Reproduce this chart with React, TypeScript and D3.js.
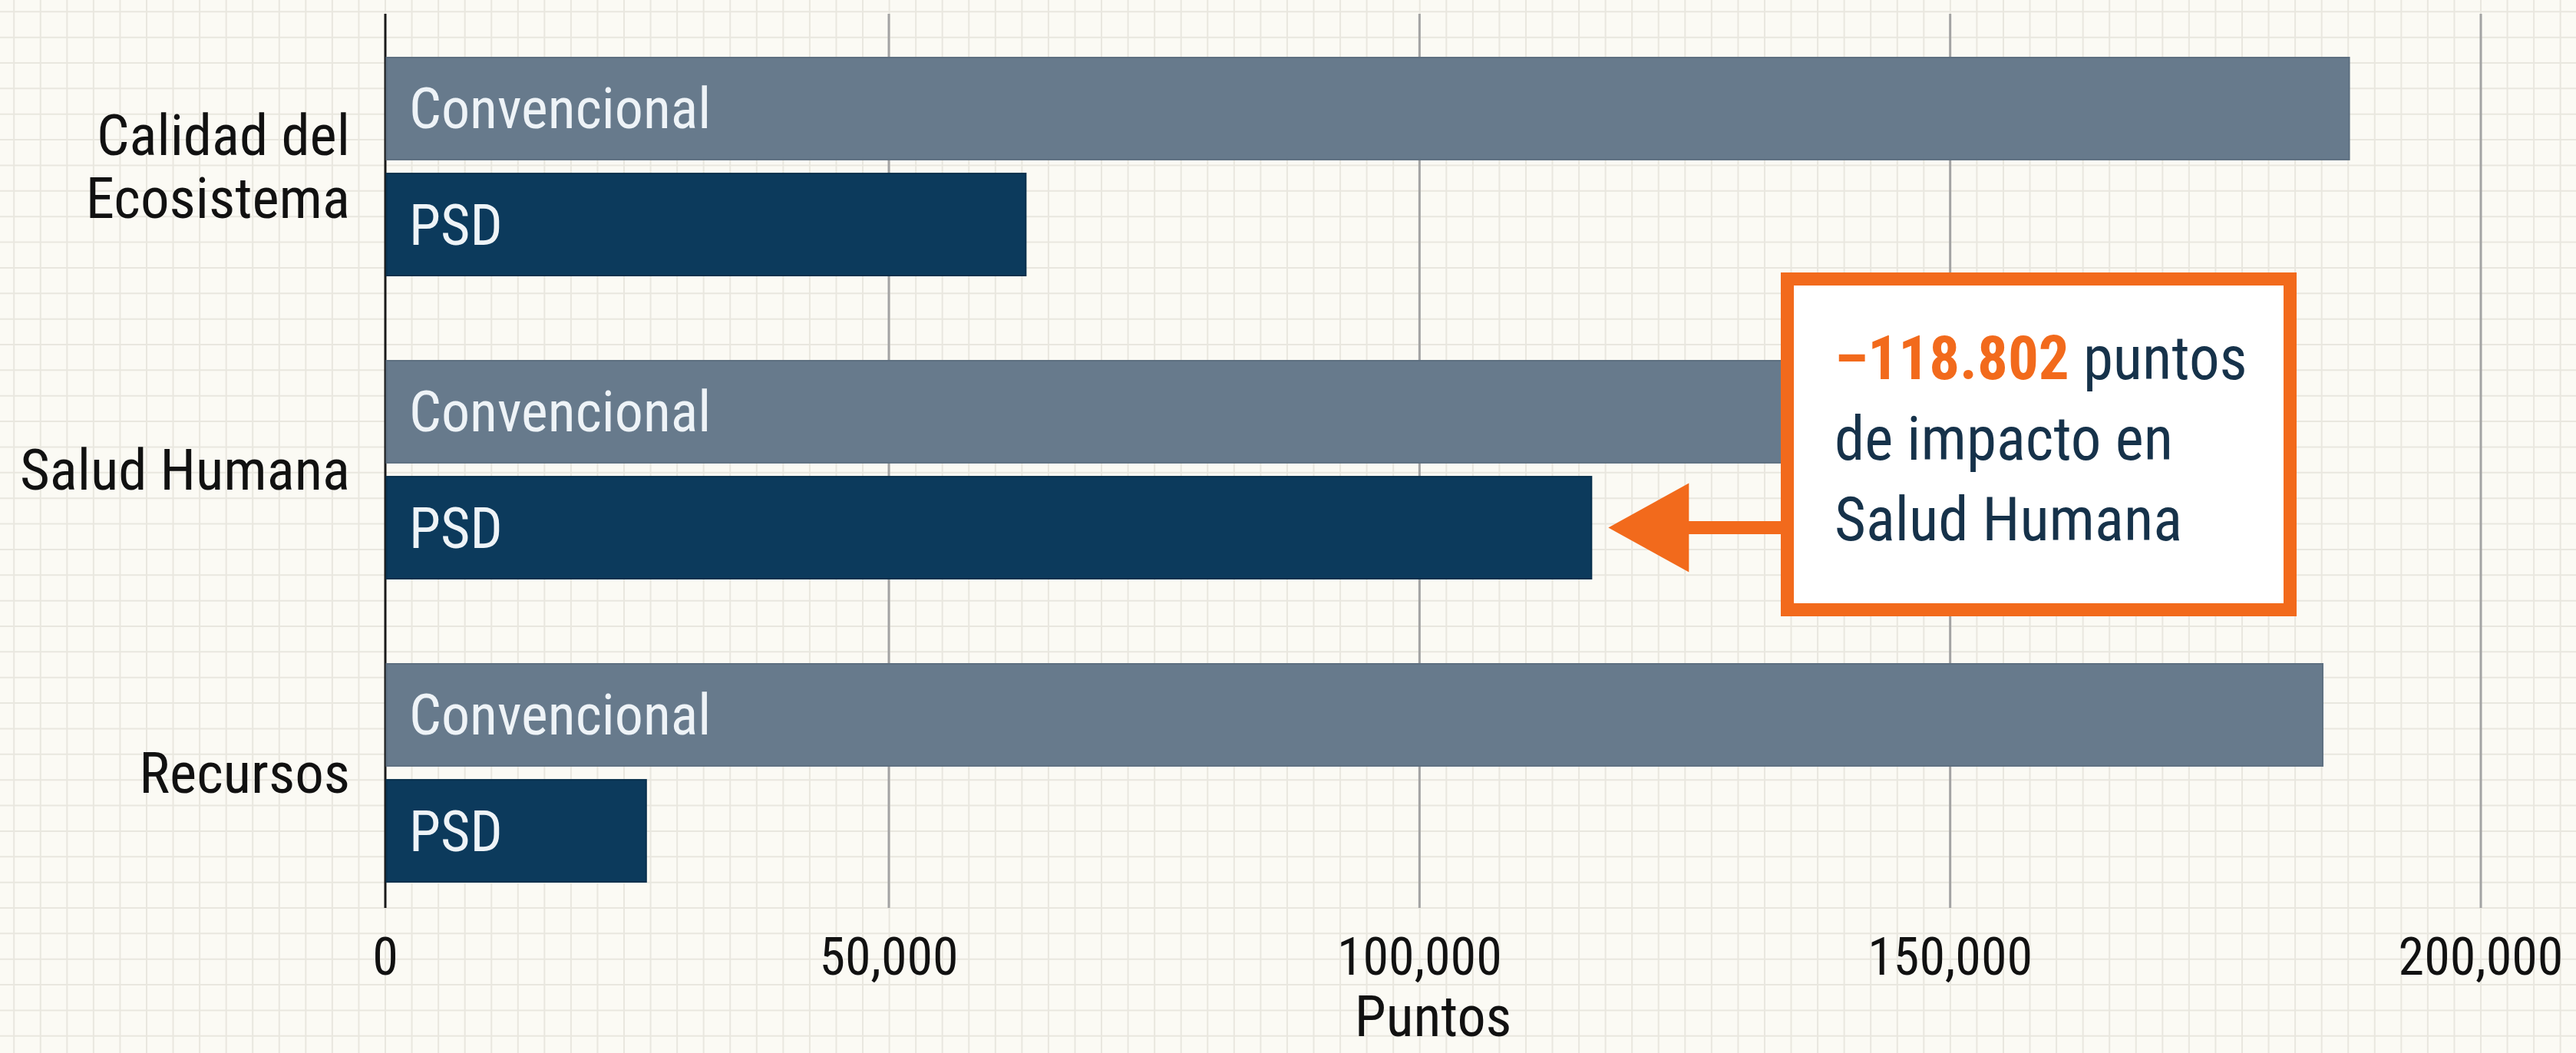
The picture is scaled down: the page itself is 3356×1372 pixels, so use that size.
import React from 'react';
import * as d3 from 'd3';

const categories = ['Calidad del Ecosistema', 'Salud Humana', 'Recursos'];
const categoryLines = [['Calidad del', 'Ecosistema'], ['Salud Humana'], ['Recursos']];
const series = ['Convencional', 'PSD'];
const convencional = [187600, 178000, 185100];
const psd = [62900, 116200, 25900];
const tickValues = [0, 50000, 100000, 150000, 200000];
const tickLabels = ['0', '50,000', '100,000', '150,000', '200,000'];
const axisTitle = 'Puntos';
const annotationValue = '–118.802';
const annotationLines = [' puntos', 'de impacto en', 'Salud Humana'];

const W = 3356;
const H = 1372;
const FONT = '"Liberation Sans Narrow", "Roboto Condensed", "Arial Narrow", "Liberation Sans", sans-serif';
const COLORS: Record<string, string> = { Convencional: '#677a8c', PSD: '#0c3a5c' };
const STROKES: Record<string, string> = { Convencional: '#5d6f80', PSD: '#08304d' };
const ORANGE = '#f26a1c';

export default function App() {
  const x = d3.scaleLinear().domain([0, 50000, 200000]).range([502, 1158, 3232]);
  const y = d3.scaleBand<string>().domain(categories).range([19.5, 1204.5]).paddingInner(0.281).paddingOuter(0.1405);
  const yInner = d3.scaleBand<string>().domain(series).range([0, y.bandwidth()]).paddingInner(0.12);

  const gridTop = 18;
  const gridBottom = 1183;

  // background paper grid
  const cell = (x(200000) - x(0)) / 79;
  const vLines: number[] = [];
  for (let k = -20; k < 100; k++) {
    const v = x(0) + k * cell;
    if (v >= 0 && v <= W) vLines.push(v);
  }
  const hLines: number[] = [];
  const hStep = (1183 - 82) / 33;
  for (let k = -3; k < 45; k++) {
    const v = 82 + k * hStep;
    if (v >= 0 && v <= H) hLines.push(v);
  }

  const rows = categories.map((c, i) => ({ cat: c, lines: categoryLines[i], values: [convencional[i], psd[i]] }));

  const salud = categories[1];
  const arrowY = (y(salud) as number) + (yInner('PSD') as number) + yInner.bandwidth() / 2;
  const tipX = x(psd[1]) + 22;
  const headBase = tipX + 105;
  const boxX = 2320, boxY = 355, boxW = 672, boxH = 448, bw = 17;

  return (
    <svg width={W} height={H} style={{ position: 'absolute', left: 0, top: 0, display: 'block' }} fontFamily={FONT}>
      <rect x={0} y={0} width={W} height={H} fill="#fbfaf4" />
      <g stroke="#e9e7df" strokeWidth={2}>
        {vLines.map((v, i) => <line key={'v' + i} x1={v} x2={v} y1={0} y2={H} />)}
        {hLines.map((v, i) => <line key={'h' + i} x1={0} x2={W} y1={v} y2={v} />)}
      </g>

      {/* major gridlines */}
      {tickValues.map((t, i) => (
        <line key={'g' + i} x1={x(t)} x2={x(t)} y1={gridTop} y2={gridBottom}
          stroke={t === 0 ? '#1a1a1a' : '#a3a3a3'} strokeWidth={3} />
      ))}

      {/* bars */}
      {rows.map((r) => (
        <g key={r.cat} transform={`translate(0,${y(r.cat)})`}>
          {series.map((s, j) => {
            const by = yInner(s) as number;
            return (
              <g key={s}>
                <rect x={x(0) + 1.5} y={by} width={x(r.values[j]) - x(0) - 1.5} height={yInner.bandwidth()}
                  fill={COLORS[s]} stroke={STROKES[s]} strokeWidth={2} />
                <text x={x(0) + 31} y={by + yInner.bandwidth() / 2 + 26} fontSize={74} fill="#eef3f7">{s}</text>
              </g>
            );
          })}
        </g>
      ))}

      {/* y labels */}
      {rows.map((r) => {
        const cy = (y(r.cat) as number) + y.bandwidth() / 2;
        const n = r.lines.length;
        const lh = 82;
        return (
          <text key={'yl' + r.cat} textAnchor="end" fontSize={75} fill="#111">
            {r.lines.map((l, k) => (
              <tspan key={k} x={456} y={cy + 26 + (k - (n - 1) / 2) * lh}>{l}</tspan>
            ))}
          </text>
        );
      })}

      {/* x tick labels */}
      {tickValues.map((t, i) => (
        <text key={'t' + i} x={x(t)} y={1270} textAnchor="middle" fontSize={68} fill="#111">{tickLabels[i]}</text>
      ))}
      <text x={(x(0) + x(200000)) / 2} y={1350} textAnchor="middle" fontSize={74} fill="#111">{axisTitle}</text>

      {/* annotation */}
      <line x1={headBase - 2} x2={boxX + bw / 2} y1={arrowY} y2={arrowY} stroke={ORANGE} strokeWidth={17} />
      <path d={`M${tipX},${arrowY} L${headBase},${arrowY - 58} L${headBase},${arrowY + 58} Z`} fill={ORANGE} />
      <rect x={boxX + bw / 2} y={boxY + bw / 2} width={boxW - bw} height={boxH - bw} fill="#ffffff" stroke={ORANGE} strokeWidth={bw} />
      <text x={2390} y={494} fontSize={79} fill="#16324a">
        <tspan fontWeight="bold" fill={ORANGE}>{annotationValue}</tspan>
        <tspan>{annotationLines[0]}</tspan>
      </text>
      <text x={2390} y={599} fontSize={79} fill="#16324a">{annotationLines[1]}</text>
      <text x={2390} y={704} fontSize={79} fill="#16324a">{annotationLines[2]}</text>
    </svg>
  );
}
